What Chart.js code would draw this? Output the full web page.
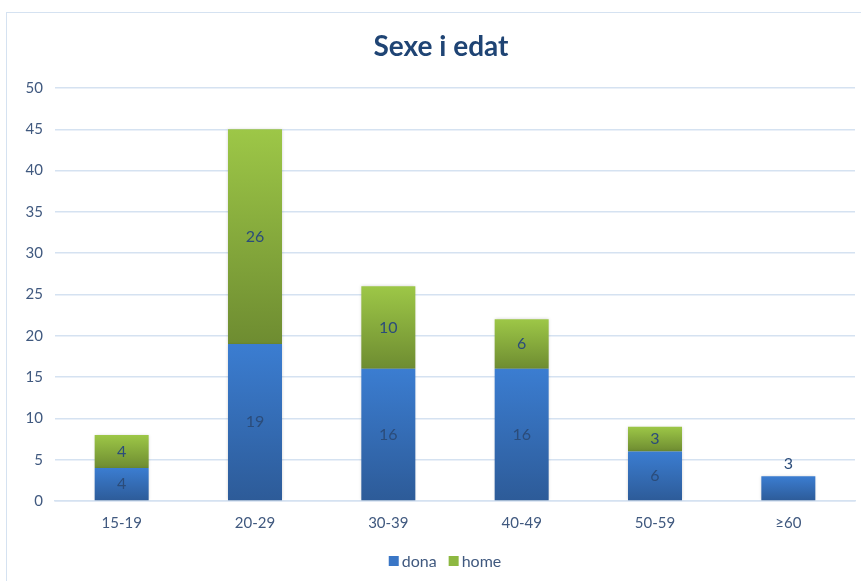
<!DOCTYPE html>
<html>
<head>
<meta charset="utf-8">
<script src="https://cdn.jsdelivr.net/npm/chart.js@4.4.1/dist/chart.umd.min.js"></script>
<style>
  html, body { margin: 0; padding: 0; background: #ffffff; overflow: hidden; }
  #frame { position: absolute; left: 6px; top: 12px; width: 900px; height: 620px; border: 1.5px solid #D5E2F1; box-sizing: border-box; }
  #wrap { position: absolute; left: 0; top: 0; width: 861px; height: 581px; }
</style>
</head>
<body>
<div id="frame"></div>
<div id="wrap"><canvas id="c" width="861" height="581"></canvas></div>
<script>
const categories = ['15-19', '20-29', '30-39', '40-49', '50-59', '\u226560'];
const dona = [4, 19, 16, 16, 6, 3];
const home = [4, 26, 10, 6, 3, 0];
const yTicks = [0, 5, 10, 15, 20, 25, 30, 35, 40, 45, 50];
const titleText = 'Sexe i edat';
const seriesNames = ['dona', 'home'];
const legendColors = ['#3A76C6', '#8DB841'];

const FONT = 'Lato, "Open Sans", sans-serif';
const TEXT = '#40597F';

function segGradient(context, light, dark) {
  const chart = context.chart;
  if (!chart.chartArea || !chart.scales.y) return light;
  const y = chart.scales.y;
  const i = context.dataIndex;
  const dsIdx = context.datasetIndex;
  let base, val;
  if (dsIdx === 0) { base = 0; val = dona[i]; } else { base = dona[i]; val = dona[i] + home[i]; }
  const yTop = y.getPixelForValue(val);
  const yBot = y.getPixelForValue(base);
  if (!isFinite(yTop) || !isFinite(yBot) || yTop === yBot) return light;
  const g = chart.ctx.createLinearGradient(0, yTop, 0, yBot);
  g.addColorStop(0, light);
  g.addColorStop(1, dark);
  return g;
}

const labelPlugin = {
  id: 'segLabels',
  afterDatasetsDraw(chart) {
    const ctx = chart.ctx;
    ctx.save();
    ctx.font = '16px ' + FONT;
    ctx.fillStyle = '#2B4C7A';
    ctx.textAlign = 'center';
    ctx.textBaseline = 'middle';
    chart.data.datasets.forEach((ds, di) => {
      const meta = chart.getDatasetMeta(di);
      meta.data.forEach((el, i) => {
        const v = ds.data[i];
        if (!v) return;
        if (di === 0 && home[i] === 0) {
          ctx.fillText(String(v), el.x, el.y - 12);
        } else {
          ctx.fillText(String(v), el.x, (el.y + el.base) / 2);
        }
      });
    });
    ctx.restore();
  }
};

const titleLegendPlugin = {
  id: 'titleLegend',
  afterDraw(chart) {
    const ctx = chart.ctx;
    ctx.save();
    ctx.font = 'bold 28px ' + FONT;
    ctx.fillStyle = '#1F4474';
    ctx.textAlign = 'center';
    ctx.textBaseline = 'middle';
    ctx.fillText(titleText, 441, 47);

    // legend
    ctx.font = '16px ' + FONT;
    ctx.textAlign = 'left';
    const box = 10, gap = 3, itemGap = 12;
    const widths = seriesNames.map(n => box + gap + ctx.measureText(n).width);
    const total = widths.reduce((a, b) => a + b, 0) + itemGap * (seriesNames.length - 1);
    let x = 445 - total / 2;
    const cy = 561;
    seriesNames.forEach((n, i) => {
      ctx.fillStyle = legendColors[i];
      ctx.fillRect(x, cy - box / 2, box, box);
      ctx.fillStyle = TEXT;
      ctx.fillText(n, x + box + gap, cy + 1);
      x += widths[i] + itemGap;
    });
    ctx.restore();
  }
};

const shadowPlugin = {
  id: 'barShadow',
  beforeDatasetsDraw(chart) {
    chart.ctx.save();
    chart.ctx.shadowColor = 'rgba(0,0,0,0.18)';
    chart.ctx.shadowBlur = 3;
  },
  afterDatasetsDraw(chart) {
    chart.ctx.restore();
  }
};

new Chart(document.getElementById('c'), {
  type: 'bar',
  data: {
    labels: categories,
    datasets: [
      {
        label: seriesNames[0],
        data: dona,
        backgroundColor: (c) => segGradient(c, '#3B7DD1', '#2D5B98'),
        borderWidth: 0,
        barPercentage: 0.405,
        categoryPercentage: 1.0
      },
      {
        label: seriesNames[1],
        data: home,
        backgroundColor: (c) => segGradient(c, '#9DC747', '#6E8C31'),
        borderWidth: 0,
        barPercentage: 0.405,
        categoryPercentage: 1.0
      }
    ]
  },
  options: {
    responsive: false,
    animation: false,
    devicePixelRatio: 1,
    layout: { padding: { top: 88, right: 6, left: 0, bottom: 36 } },
    plugins: {
      title: { display: false },
      tooltip: { enabled: false },
      legend: { display: false }
    },
    scales: {
      x: {
        stacked: true,
        grid: { display: false, drawTicks: false },
        border: { display: true, color: '#D5E2F1', width: 1.5 },
        ticks: { font: { family: FONT, size: 15 }, color: TEXT, padding: 13 },
        afterFit(scale) { scale.height = 44; }
      },
      y: {
        stacked: true,
        min: 0,
        max: 50,
        afterBuildTicks(scale) { scale.ticks = yTicks.map(v => ({ value: v })); },
        grid: { color: '#D5E2F1', lineWidth: 1.5, drawTicks: false },
        border: { display: false },
        ticks: { font: { family: FONT, size: 15 }, color: TEXT, padding: 12 },
        afterFit(scale) { scale.width = 55; }
      }
    }
  },
  plugins: [shadowPlugin, labelPlugin, titleLegendPlugin]
});
</script>
</body>
</html>
